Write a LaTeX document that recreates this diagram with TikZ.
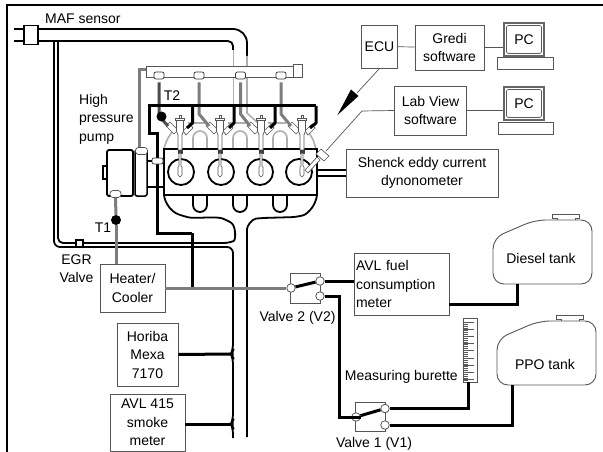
\documentclass[tikz,border=0pt]{standalone}
\usepackage{fontspec}
\setmainfont{Liberation Sans}
\usepackage{xcolor}
\usetikzlibrary{positioning, calc}
\definecolor{cPipe}{RGB}{125,125,125}
\definecolor{cLight}{RGB}{175,175,175}
\definecolor{cEdge}{RGB}{85,85,85}
\tikzset{
	blk/.style     ={rectangle, draw=cEdge, line width=0.9pt, fill=white, align=center, inner sep=0pt},
	lbl/.style     ={inner sep=0pt, align=center},
	fitting/.style ={rectangle, rounded corners=2pt, draw=black!80, line width=0.7pt, fill=white, minimum width=10pt, minimum height=7pt, inner sep=0pt},
	port/.style    ={circle, draw=cEdge, line width=0.8pt, fill=white, minimum size=8.5pt, inner sep=0pt},
	dot/.style     ={circle, fill=black, minimum size=10pt, inner sep=0pt},
	cyl/.style     ={circle, draw=black, line width=1.8pt, minimum size=26pt, inner sep=0pt},
	pipe/.style    ={line width=3pt, black},
	hose/.style    ={line width=1.8pt, black, rounded corners=6pt},
	feed/.style    ={line width=3pt, cPipe},
	pale/.style    ={line width=1.6pt, cLight},
	wire/.style    ={line width=0.7pt, cEdge},
	part/.style    ={line width=0.7pt, draw=cEdge, fill=white},
}

\begin{document}
\begin{tikzpicture}[x=1pt, y=-1pt, font=\fontsize{14}{18.5}\selectfont]
	\useasboundingbox (0,0) rectangle (603,452);
	\fill[white] (0,0) rectangle (603,452);
	\draw[line width=1.3pt] (7,452) -- (7,5) -- (603,5);

	% air path
	\node[rectangle, draw=black, line width=1.5pt, fill=white, minimum width=14pt, minimum height=19pt, inner sep=0pt] (maf) at (31,35) {};
	\coordinate (plugA) at (14,29);
	\coordinate (plugB) at (14,41);
	\draw[line width=1.5pt] (plugA) -- (maf.west |- plugA);
	\draw[line width=1.5pt] (plugB) -- (maf.west |- plugB);
	\draw[hose, rounded corners=14pt] (maf.east |- plugA) -- (247,29) -- (247,56);
	\draw[hose, rounded corners=5pt] (maf.east |- plugB) -- (233,41) -- (233,50);
	\draw[pale] (247,56) -- (247,113) -- (258,123);
	\draw[pale] (233.5,50) -- (233.5,108);
	\draw[hose] (54,41) -- (54,247) -- (233,247) -- (233,350) -- (231,354) -- (233,358) -- (233,420) -- (231,424) -- (233,428) -- (233,438);
	\draw[hose, rounded corners=5pt] (58,41) -- (58,243) -- (229,243) .. controls (236,240) and (236,226) .. (227,220) .. controls (215,216) and (195,219) .. (183,216) .. controls (172,212) and (165,204) .. (164,195);
	\draw[hose] (317,195) .. controls (316,205) and (308,214) .. (297,217) -- (262,218) .. controls (252,219) and (247,226) .. (247,235) -- (247,437);
	\foreach \rx in {193,233,273}
		\draw[line width=1.8pt] (\rx,195) -- (\rx,205) arc (180:0:7) -- (\rx+14,195);
	\node[rectangle, draw=black, line width=1.5pt, fill=white, minimum size=7pt, inner sep=0pt] (egr) at (79.5,243.5) {};

	% rail and drops
	\node[blk, minimum width=147pt, minimum height=11pt] (rail) at (219.5,71.5) {};
	\node[blk, minimum width=9pt, minimum height=13pt] (railend) at (297.5,70.5) {};
	\coordinate (railin) at (139,147);
	\draw[feed] (rail.west) ++(0,-2) -- (139,69.5) -- (railin);

	% cylinder head
	\draw[pale] (164,149) .. controls (166,140) and (170,134) .. (174,130);
	\draw[pale] (316,149) .. controls (314,140) and (310,134) .. (307,130);
	\foreach \ax in {193,233,273}
		\draw[pale] (\ax,149) -- (\ax,138) arc (180:360:7) -- (\ax+14,149);
	\foreach \ax in {188,228,268}
		\draw[pale] (\ax,123) -- (\ax+18,123);
	\node[rectangle, draw=black, line width=2pt, fill=white, minimum width=153pt, minimum height=46pt, inner sep=0pt] (block) at (240.5,172) {};
	\foreach \i/\cx in {1/181,2/221,3/260,4/299}
		\node[cyl] (cyl\i) at (\cx,172) {};

	% injectors
	\foreach \ix in {180,220,261,302} {
		\begin{scope}[shift={(\ix,0)}]
			\draw[part] (-10,122) -- (-14,126) -- (-6,134) -- (-2,130) -- cycle;
			\draw[part] (3,131) -- (6,135) -- (13,128) -- (10,124) -- cycle;
			\draw[part] (-1,115.5) rectangle (1,118);
			\draw[part] (-4.5,118) rectangle (4.5,120.5);
			\draw[part] (-3.5,120.5) -- (-3.5,131) -- (-2,135) -- (-2,150) -- (2,150) -- (2,135) -- (3.5,131) -- (3.5,120.5) -- cycle;
			\fill[black!75] (-2.5,150) rectangle (2.5,153.5);
			\draw[part] (-1,153.5) -- (-1,166) -- (-2,167) -- (-2,175) -- (0,177) -- (2,175) -- (2,167) -- (1,166) -- (1,153.5);
		\end{scope}
	}
	\foreach \i/\fx in {1/159,2/199,3/240.5,4/281}
		\node[fitting] (railfit\i) at (\fx,75.5) {};
	\draw[feed, black!70, shorten <=3pt] (railfit1) -- (159,116) -- (168,126);
	\draw[feed, shorten <=3pt] (railfit2) -- (199,114) -- (209,126);
	\draw[feed, shorten <=3pt] (railfit3) -- (240.5,114) -- (250,126);
	\draw[feed, shorten <=3pt] (railfit4) -- (281,114) -- (291,126);

	% return line
	\draw[pipe] (192,233) -- (157,233) -- (157,133) -- (149,133) -- (149,106) -- (316,106);
	\foreach \rx/\tx in {192.5/187,234/229,275/270,316/310}
		\draw[pipe, line join=round] (\rx,106) -- (\rx,123) -- (\tx,128);
	\node[dot] (ttwo) at (161.5,116.5) {};

	% high pressure pump
	\draw[line width=1.8pt] (147,161) -- (163,161);
	\draw[line width=1.8pt] (147,187) -- (163,187);
	\node[rectangle, draw=black, line width=1.5pt, fill=white, minimum width=4pt, minimum height=13pt, inner sep=0pt] (pumptab) at (105,172.5) {};
	\node[rectangle, rounded corners=2pt, draw=black, line width=1.8pt, fill=white, minimum width=26pt, minimum height=46pt, inner sep=0pt] (pump) at (120,173) {};
	\node[rectangle, rounded corners=2pt, draw=black, line width=1.5pt, fill=white, minimum width=12pt, minimum height=46pt, inner sep=0pt] (pumphead) at (141,173) {};
	\node[fitting, minimum width=12pt, minimum height=7pt, rounded corners=3pt, draw=black!70] (pumpcap) at (141.5,151) {};
	\node[fitting, minimum width=11pt, minimum height=7pt, rounded corners=3pt, draw=cEdge] (pumpout) at (115.5,194) {};
	\node[fitting, minimum width=11pt, minimum height=6pt] (pumpfit) at (157.5,161) {};
	\node[dot] (tone) at (116,220) {};

	% boxes
	\node[blk, minimum width=65pt, minimum height=48pt] (heater) at (132.5,288) {Heater/\\Cooler};
	\node[blk, minimum width=61pt, minimum height=63pt] (horiba) at (147.5,354.5) {Horiba\\Mexa\\7170};
	\node[blk, minimum width=75pt, minimum height=57pt] (smoke) at (147.5,422.5) {AVL 415\\smoke\\meter};
	\node[blk, minimum width=36pt, minimum height=43pt] (ecu) at (379.5,46.5) {ECU};
	\node[blk, minimum width=69pt, minimum height=45pt] (gredi) at (449.5,47.5) {Gredi\\software};
	\node[blk, minimum width=72pt, minimum height=49pt] (labview) at (430.5,110.5) {Lab View\\software};
	\node[blk, minimum width=152pt, minimum height=48pt] (shenck) at (422,173) {Shenck eddy current\\dynonometer};
	\node[blk, minimum width=95pt, minimum height=62pt, align=left, text width=91pt] (avlfuel) at (401.5,284) {AVL fuel\\consumption\\meter};

	% computers
	\node[blk, line width=1.4pt, draw=black!60, minimum width=40pt, minimum height=33pt] (pcone) at (524,39.5) {};
	\node[rectangle, rounded corners=1.5pt, draw=black!65, line width=0.6pt, minimum width=35pt, minimum height=28pt, inner sep=0pt] (pconetext) at (pcone) {PC};
	\node[blk, minimum width=56pt, minimum height=12pt] (pconebase) at (525,63) {};
	\node[blk, line width=1.4pt, draw=black!60, minimum width=40pt, minimum height=33pt] (pctwo) at (524,103.5) {};
	\node[rectangle, rounded corners=1.5pt, draw=black!65, line width=0.6pt, minimum width=35pt, minimum height=28pt, inner sep=0pt] (pctwotext) at (pctwo) {PC};
	\node[blk, minimum width=55pt, minimum height=12pt] (pctwobase) at (525.5,128) {};
	\draw[wire] (ecu) -- (gredi);
	\draw[wire] (gredi.east) -- (gredi.east -| pcone.west);
	\draw[wire] (labview.east) -- (labview.east -| pctwo.west);

	% ECU and speed sensor leads
	\coordinate (ecuwedge) at (357,93);
	\coordinate (ecutip) at (337.5,115);
	\draw[wire] (ecu.south) -- (ecuwedge);
	\fill[black] (351,89.5) -- (358.5,96) -- (ecutip) -- cycle;
	\coordinate (labbend) at (362,111);
	\coordinate (sensor) at (326,151);
	\draw[part] (309,166) -- (305,170) -- (308,173) -- (320,160) -- (317,157) -- cycle;
	\draw[part] (321,149) -- (316,154) -- (324,161) -- (329,156) -- cycle;
	\draw[wire] (labview.west) -- (labbend) -- (sensor);

	% dyno link and instrument lines
	\draw[line width=1.8pt] (block.east |- 0,170) -- (shenck.west |- 0,170);
	\draw[line width=1.8pt] (block.east |- 0,176) -- (shenck.west |- 0,176);
	\draw[pipe] (horiba.east) -- (231,354);
	\draw[pipe] (smoke.east |- 0,424) -- (231,424);

	% valves
	\node[blk, minimum width=30pt, minimum height=30pt] (valvetwo) at (305.5,288) {};
	\node[blk, minimum width=30pt, minimum height=29pt] (valveone) at (370,416.5) {};

	% tanks
	\foreach \tx/\ty in {0/0,4/101} {
		\begin{scope}[shift={(\tx,\ty)}]
			\draw[part, line width=0.9pt] (557,220) -- (557,218) -- (552,218) -- (552,214) -- (579,214) -- (579,218) -- (575,218) -- (575,220);
			\draw[part, line width=0.9pt, rounded corners=11pt] (493,238) -- (493,284) -- (592,284) -- (592,220) -- (535,220) -- cycle;
		\end{scope}
	}
	\node[lbl] (dieseltank) at (541,258) {Diesel tank};
	\node[lbl] (ppotank) at (545,364) {PPO tank};
	\coordinate (dieselin) at (517,284);
	\coordinate (ppoin) at (512,385);

	% burette
	\node[blk, minimum width=14pt, minimum height=64pt] (burette) at (470,350.5) {};
	\foreach \t in {0,...,29}
		\draw[black!65, line width=0.7pt] (463.5,322+2*\t) -- (468,322+2*\t);
	\foreach \t in {0,...,8}
		\draw[black!65, line width=0.7pt] (463.5,322+7.2*\t) -- (474,322+7.2*\t);
	\coordinate (buretteout) at (468,382);
	\coordinate (avlout) at (449,304);

	% fuel lines
	\node[port] (vtwoin) at (291,288) {};
	\node[port] (vtwoup) at (320,281) {};
	\node[port] (vtwolow) at (320,296) {};
	\node[port] (vonein) at (356,417) {};
	\node[port] (voneup) at (385,408.5) {};
	\node[port] (vonelow) at (385,425) {};
	\draw[feed] (pumpout) -- (tone);
	\draw[feed] (tone) -- (tone |- heater.north);
	\draw[pipe] (192,233) -- (192,288);
	\draw[feed] (heater.east) -- (vtwoin.west);
	\draw[pipe] (vtwoup) -- (vtwoup -| avlfuel.west);
	\draw[pipe] (vtwolow) -- (339.5,296) -- (339.5,417) -- (vonein.east);
	\draw[pipe] (voneup) -- (voneup -| buretteout) -- (buretteout);
	\draw[pipe] (vonelow) -- (vonelow -| ppoin) -- (ppoin);
	\draw[pipe] (avlout) -- (avlout -| dieselin) -- (dieselin);
	\draw[pipe] (vtwoin) -- (vtwoup);
	\draw[pipe] (vonein) -- (voneup);

	% labels
	\node[lbl, anchor=west] (maflabel) at (45,19) {MAF sensor};
	\node[lbl, align=left, anchor=west] (pumplabel) at (79,119) {High\\pressure\\pump};
	\node[lbl] (ttwolabel) at (172,96) {T2};
	\node[lbl] (tonelabel) at (103,228) {T1};
	\node[lbl] (egrlabel) at (76.5,268.5) {EGR\\Valve};
	\node[lbl] (vtwolabel) at (297.5,318) {Valve 2 (V2)};
	\node[lbl] (vonelabel) at (374,444) {Valve 1 (V1)};
	\node[lbl, anchor=east] (burettelabel) at (458,376.5) {Measuring burette};
\end{tikzpicture}
\end{document}
